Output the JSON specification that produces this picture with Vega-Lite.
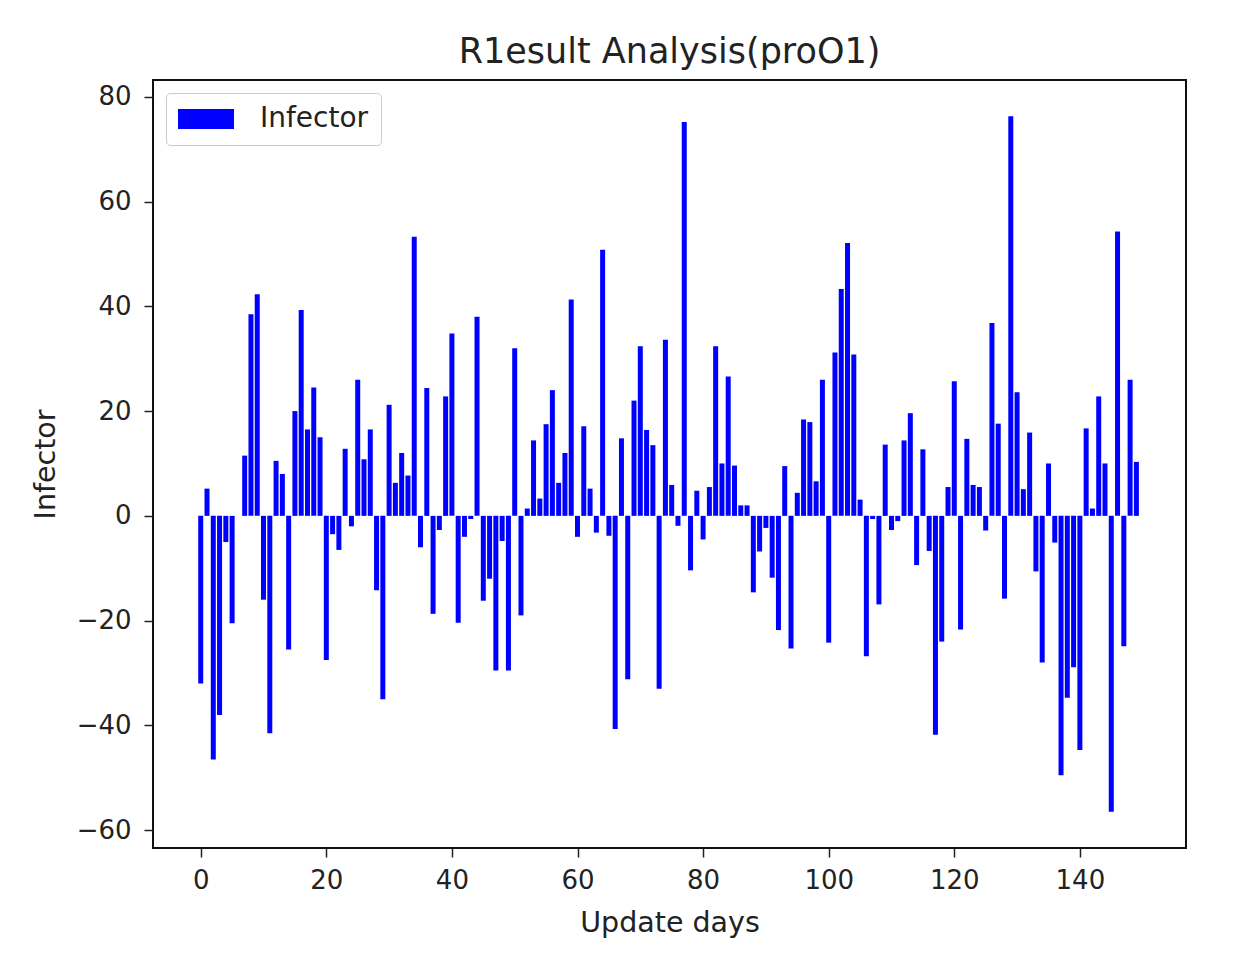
{
  "$schema": "https://vega.github.io/schema/vega-lite/v6.json",
  "autosize": "none",
  "width": 1033,
  "height": 768,
  "padding": {"left": 153, "top": 80, "right": 57, "bottom": 114},
  "background": "white",
  "title": {"text": "R1esult Analysis(proO1)", "font": "DejaVu Sans", "fontSize": 35, "fontWeight": "normal", "color": "#222", "anchor": "middle", "offset": 10},
  "data": {"values": [
    {"day":0,"infector":-32},{"day":1,"infector":5.2},{"day":2,"infector":-46.5},{"day":3,"infector":-38},{"day":4,"infector":-5},
    {"day":5,"infector":-20.5},{"day":6,"infector":0},{"day":7,"infector":11.5},{"day":8,"infector":38.5},{"day":9,"infector":42.3},
    {"day":10,"infector":-16},{"day":11,"infector":-41.5},{"day":12,"infector":10.5},{"day":13,"infector":8},{"day":14,"infector":-25.5},
    {"day":15,"infector":20},{"day":16,"infector":39.3},{"day":17,"infector":16.5},{"day":18,"infector":24.5},{"day":19,"infector":15},
    {"day":20,"infector":-27.5},{"day":21,"infector":-3.5},{"day":22,"infector":-6.5},{"day":23,"infector":12.8},{"day":24,"infector":-2},
    {"day":25,"infector":26},{"day":26,"infector":10.8},{"day":27,"infector":16.5},{"day":28,"infector":-14.2},{"day":29,"infector":-35},
    {"day":30,"infector":21.2},{"day":31,"infector":6.3},{"day":32,"infector":12},{"day":33,"infector":7.7},{"day":34,"infector":53.3},
    {"day":35,"infector":-6},{"day":36,"infector":24.4},{"day":37,"infector":-18.7},{"day":38,"infector":-2.7},{"day":39,"infector":22.8},
    {"day":40,"infector":34.8},{"day":41,"infector":-20.4},{"day":42,"infector":-4},{"day":43,"infector":-0.6},{"day":44,"infector":38},
    {"day":45,"infector":-16.2},{"day":46,"infector":-12},{"day":47,"infector":-29.5},{"day":48,"infector":-4.8},{"day":49,"infector":-29.5},
    {"day":50,"infector":32},{"day":51,"infector":-19},{"day":52,"infector":1.4},{"day":53,"infector":14.4},{"day":54,"infector":3.3},
    {"day":55,"infector":17.5},{"day":56,"infector":24},{"day":57,"infector":6.3},{"day":58,"infector":12},{"day":59,"infector":41.3},
    {"day":60,"infector":-4},{"day":61,"infector":17.1},{"day":62,"infector":5.2},{"day":63,"infector":-3.2},{"day":64,"infector":50.8},
    {"day":65,"infector":-3.8},{"day":66,"infector":-40.7},{"day":67,"infector":14.8},{"day":68,"infector":-31.2},{"day":69,"infector":22},
    {"day":70,"infector":32.4},{"day":71,"infector":16.4},{"day":72,"infector":13.5},{"day":73,"infector":-33},{"day":74,"infector":33.6},
    {"day":75,"infector":5.9},{"day":76,"infector":-1.9},{"day":77,"infector":75.2},{"day":78,"infector":-10.4},{"day":79,"infector":4.8},
    {"day":80,"infector":-4.5},{"day":81,"infector":5.5},{"day":82,"infector":32.4},{"day":83,"infector":10},{"day":84,"infector":26.6},
    {"day":85,"infector":9.6},{"day":86,"infector":2},{"day":87,"infector":2},{"day":88,"infector":-14.6},{"day":89,"infector":-6.8},
    {"day":90,"infector":-2.3},{"day":91,"infector":-11.8},{"day":92,"infector":-21.8},{"day":93,"infector":9.5},{"day":94,"infector":-25.3},
    {"day":95,"infector":4.4},{"day":96,"infector":18.4},{"day":97,"infector":17.9},{"day":98,"infector":6.6},{"day":99,"infector":26},
    {"day":100,"infector":-24.2},{"day":101,"infector":31.2},{"day":102,"infector":43.3},{"day":103,"infector":52.1},{"day":104,"infector":30.8},
    {"day":105,"infector":3.1},{"day":106,"infector":-26.8},{"day":107,"infector":-0.6},{"day":108,"infector":-16.9},{"day":109,"infector":13.6},
    {"day":110,"infector":-2.7},{"day":111,"infector":-1},{"day":112,"infector":14.4},{"day":113,"infector":19.6},{"day":114,"infector":-9.4},
    {"day":115,"infector":12.7},{"day":116,"infector":-6.7},{"day":117,"infector":-41.8},{"day":118,"infector":-24},{"day":119,"infector":5.5},
    {"day":120,"infector":25.7},{"day":121,"infector":-21.7},{"day":122,"infector":14.7},{"day":123,"infector":5.9},{"day":124,"infector":5.5},
    {"day":125,"infector":-2.8},{"day":126,"infector":36.8},{"day":127,"infector":17.6},{"day":128,"infector":-15.8},{"day":129,"infector":76.3},
    {"day":130,"infector":23.6},{"day":131,"infector":5.1},{"day":132,"infector":15.9},{"day":133,"infector":-10.6},{"day":134,"infector":-28},
    {"day":135,"infector":10},{"day":136,"infector":-5.1},{"day":137,"infector":-49.5},{"day":138,"infector":-34.7},{"day":139,"infector":-28.9},
    {"day":140,"infector":-44.7},{"day":141,"infector":16.7},{"day":142,"infector":1.4},{"day":143,"infector":22.8},{"day":144,"infector":10},
    {"day":145,"infector":-56.5},{"day":146,"infector":54.3},{"day":147,"infector":-24.9},{"day":148,"infector":26},{"day":149,"infector":10.3}
  ]},
  "mark": {"type": "bar", "width": 5, "clip": true},
  "encoding": {
    "x": {"field": "day", "type": "quantitative", "title": "Update days",
      "scale": {"domain": [-7.6, 156.9], "nice": false, "zero": false, "padding": 0},
      "axis": {"values": [0, 20, 40, 60, 80, 100, 120, 140], "grid": false, "domain": false, "tickSize": 9, "tickWidth": 1.5, "tickColor": "#222", "labelPadding": 10, "titlePadding": 15}},
    "y": {"field": "infector", "type": "quantitative", "title": "Infector",
      "scale": {"domain": [-63.4, 83.2], "nice": false, "padding": 0},
      "axis": {"values": [-60, -40, -20, 0, 20, 40, 60, 80], "grid": false, "domain": false, "tickSize": 9, "tickWidth": 1.5, "tickColor": "#222", "labelPadding": 13, "titlePadding": 16}},
    "color": {"datum": "Infector", "type": "nominal",
      "scale": {"range": ["#0000ff"]},
      "legend": {"title": null, "orient": "top-left", "offset": 13, "symbolType": "M-1.4,-1H4.2V1H-1.4Z", "symbolSize": 400, "symbolStrokeWidth": 0, "labelOffset": 54, "labelFontSize": 28, "labelFont": "DejaVu Sans", "labelColor": "#222", "padding": 12, "fillColor": "white", "strokeColor": "#cccccc", "cornerRadius": 4}}
  },
  "config": {
    "view": {"stroke": "#111", "strokeWidth": 2, "fill": "white"},
    "axis": {"labelFont": "DejaVu Sans", "labelFontSize": 26, "labelColor": "#222", "titleFont": "DejaVu Sans", "titleFontSize": 28.5, "titleFontWeight": "normal", "titleColor": "#222"}
  }
}
